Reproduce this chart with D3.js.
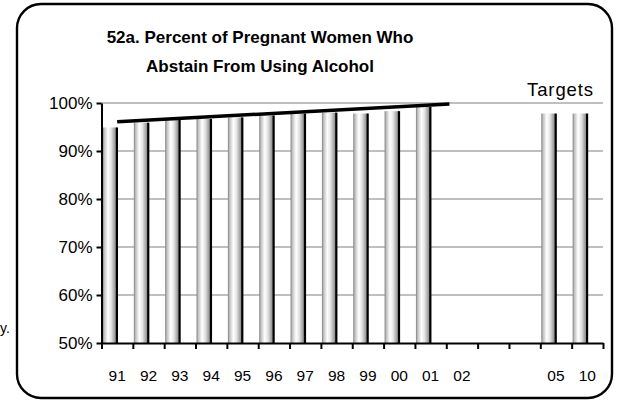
<!DOCTYPE html>
<html><head><meta charset="utf-8">
<script src="https://cdn.jsdelivr.net/npm/d3@7"></script>
<style>
html,body{margin:0;padding:0;background:#fff;}
svg{display:block;font-family:"Liberation Sans",Arial,sans-serif;}
</style></head>
<body>
<svg id="chart" width="626" height="401"></svg>
<script>
// ---- data ----
const categories = ["91","92","93","94","95","96","97","98","99","00","01","02","03","04","05","10"];
const tickLabels = ["91","92","93","94","95","96","97","98","99","00","01","02","","","05","10"];
const values = [94.9, 95.9, 96.5, 96.7, 97.0, 97.4, 97.8, 98.0, 97.8, 98.3, 99.2, null, null, null, 97.8, 97.8];
const yTicks = [50, 60, 70, 80, 90, 100];
const trendIndex = [0.5, 11.1];     // positions in category units
const trendValues = [96.1, 99.8];
const titleLines = ["52a. Percent of Pregnant Women Who", "Abstain From Using Alcohol"];
const targetsLabel = "Targets";

// ---- layout ----
const svg = d3.select("#chart");
const L = 101.5, R = 603, T = 103, B = 343;

const x = d3.scaleBand().domain(categories).range([L, R]).paddingInner(0).paddingOuter(0);
const xi = d3.scaleLinear().domain([0, categories.length]).range([L, R]);
const y = d3.scaleLinear().domain([50, 100]).range([B, T]);

const defs = svg.append("defs");
const g = defs.append("linearGradient").attr("id","barGrad").attr("x1","0").attr("x2","1").attr("y1","0").attr("y2","0");
[[0,"#7e7e7e"],[0.12,"#c0c0c0"],[0.38,"#ffffff"],[0.6,"#e4e4e4"],[0.85,"#a0a0a0"],[1,"#777777"]]
  .forEach(([o,c]) => g.append("stop").attr("offset", o).attr("stop-color", c));

// outer rounded frame
svg.append("rect").attr("x",17).attr("y",4).attr("width",595).attr("height",394)
  .attr("rx",24).attr("ry",24).attr("fill","#fff").attr("stroke","#000").attr("stroke-width",2.4);

// fragment of neighbouring page text
svg.append("text").attr("x",0).attr("y",333).attr("font-size",14).attr("fill","#000").text("y.");

// title
svg.append("g").selectAll("text").data(titleLines).join("text")
  .attr("x", 260).attr("y", (d,i) => 42.5 + i*29.5)
  .attr("text-anchor","middle").attr("font-weight","bold").attr("font-size",17).attr("fill","#000")
  .text(d => d);

// targets label
svg.append("text").attr("x",594).attr("y",96).attr("text-anchor","end")
  .attr("font-size",18.5).attr("letter-spacing",0.9).attr("fill","#000").text(targetsLabel);

// gridlines
svg.append("g").selectAll("line").data(yTicks.filter(v => v > 50)).join("line")
  .attr("x1", L).attr("x2", R).attr("y1", d => y(d)).attr("y2", d => y(d))
  .attr("stroke","#808080").attr("stroke-width",1);

// bars
const bw = x.bandwidth() * 0.46;
const barData = categories.map((c,i) => ({c, v: values[i]})).filter(d => d.v != null);
const bars = svg.append("g");
bars.selectAll("rect").data(barData).join("rect")
  .attr("x", d => x(d.c) + 1).attr("width", bw)
  .attr("y", d => y(d.v)).attr("height", d => B - y(d.v))
  .attr("fill","url(#barGrad)");
bars.selectAll("line").data(barData).join("line")
  .attr("x1", d => x(d.c) + 1 + bw).attr("x2", d => x(d.c) + 1 + bw)
  .attr("y1", d => y(d.v)).attr("y2", B)
  .attr("stroke","#000").attr("stroke-width",2.2);

// trend line
svg.append("path")
  .datum(trendIndex.map((t,i) => [t, trendValues[i]]))
  .attr("d", d3.line().x(d => xi(d[0])).y(d => y(d[1])))
  .attr("stroke","#000").attr("stroke-width",3.5).attr("fill","none");

// y axis
const yAxis = svg.append("g").attr("transform",`translate(${L},0)`)
  .call(d3.axisLeft(y).tickValues(yTicks).tickFormat(d => d + "%").tickSize(5).tickSizeOuter(0));
yAxis.select(".domain").attr("stroke","#000").attr("stroke-width",2);
yAxis.selectAll(".tick line").attr("stroke","#000").attr("stroke-width",2);
yAxis.selectAll(".tick text").attr("font-size",17).attr("font-family","Liberation Sans, Arial, sans-serif")
  .attr("fill","#000").attr("x",-9);

// x axis tick marks at band boundaries
const xAxis = svg.append("g").attr("transform",`translate(0,${B})`)
  .call(d3.axisBottom(xi).tickValues(d3.range(0, categories.length + 1)).tickFormat("").tickSize(6).tickSizeOuter(0));
xAxis.select(".domain").attr("stroke","#000").attr("stroke-width",2);
xAxis.selectAll(".tick line").attr("stroke","#000").attr("stroke-width",2);

// x labels at band centres
const xLab = svg.append("g").attr("transform",`translate(0,${B})`)
  .call(d3.axisBottom(x).tickFormat((d,i) => tickLabels[i]).tickSize(0));
xLab.select(".domain").remove();
xLab.selectAll(".tick text").attr("font-size",15.5).attr("font-family","Liberation Sans, Arial, sans-serif")
  .attr("fill","#000").attr("dy",0).attr("y",38);
</script>
</body></html>
